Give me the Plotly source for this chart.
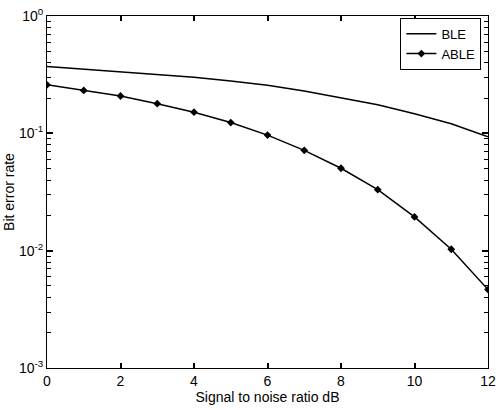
import plotly.graph_objects as go

snr = [0, 1, 2, 3, 4, 5, 6, 7, 8, 9, 10, 11, 12]
ble = [0.371, 0.352, 0.335, 0.318, 0.301, 0.279, 0.2575, 0.230, 0.201, 0.175, 0.147, 0.1205, 0.0936]
able = [0.259, 0.232, 0.208, 0.179, 0.1514, 0.1236, 0.0966, 0.0716, 0.0504, 0.0331, 0.0194, 0.01028, 0.00466]

ytickvals = [1, 0.1, 0.01, 0.001]
yticktext = ["10<sup>0</sup>", "10<sup>-1</sup>", "10<sup>-2</sup>", "10<sup>-3</sup>"]
xtickvals = [0, 2, 4, 6, 8, 10, 12]
yminor = [m * 10**e for e in (-3, -2, -1) for m in range(2, 10)]

FONT = "Arial, Liberation Sans, sans-serif"

fig = go.Figure()
fig.add_trace(go.Scatter(x=snr, y=ble, mode="lines", name="BLE",
                         line=dict(color="black", width=1.5)))
fig.add_trace(go.Scatter(x=snr, y=able, mode="lines+markers", name="ABLE",
                         line=dict(color="black", width=1.5),
                         marker=dict(symbol="diamond", size=6, color="black")))
# empty helper trace carrying the minor-tick axis
fig.add_trace(go.Scatter(x=[None], y=[None], yaxis="y2", showlegend=False,
                         hoverinfo="skip", mode="lines"))

fig.update_layout(
    width=502, height=410,
    margin=dict(l=47, r=6, t=13, b=42),
    paper_bgcolor="white", plot_bgcolor="white",
    font=dict(family=FONT, size=14, color="black"),
    showlegend=True,
    legend=dict(x=0.985, y=0.995, xanchor="right", yanchor="top",
                bgcolor="white", bordercolor="black", borderwidth=1,
                font=dict(size=13), tracegroupgap=0, itemwidth=30),
    xaxis=dict(range=[0, 12], tickvals=xtickvals, ticks="inside", ticklen=5,
               tickwidth=1.5, tickcolor="black", ticklabeloverflow="allow",
               showline=True, linecolor="black", linewidth=1, mirror="ticks",
               showgrid=False, zeroline=False,
               title=dict(text="Signal to noise ratio dB", standoff=3, font=dict(size=14))),
    yaxis=dict(type="log", range=[-3, 0], tickmode="array",
               tickvals=ytickvals, ticktext=yticktext,
               ticks="inside", ticklen=6, tickwidth=1.5, tickcolor="black",
               showline=True, linecolor="black", linewidth=1, mirror="ticks",
               showgrid=False, zeroline=False,
               title=dict(text="Bit error rate", standoff=1, font=dict(size=14))),
    yaxis2=dict(type="log", range=[-3, 0], overlaying="y", side="left",
                tickmode="array", tickvals=yminor, showticklabels=False,
                ticks="inside", ticklen=4, tickwidth=1.2, tickcolor="black",
                showline=False, mirror="ticks",
                showgrid=False, zeroline=False),
)

fig.write_html("out.html")
